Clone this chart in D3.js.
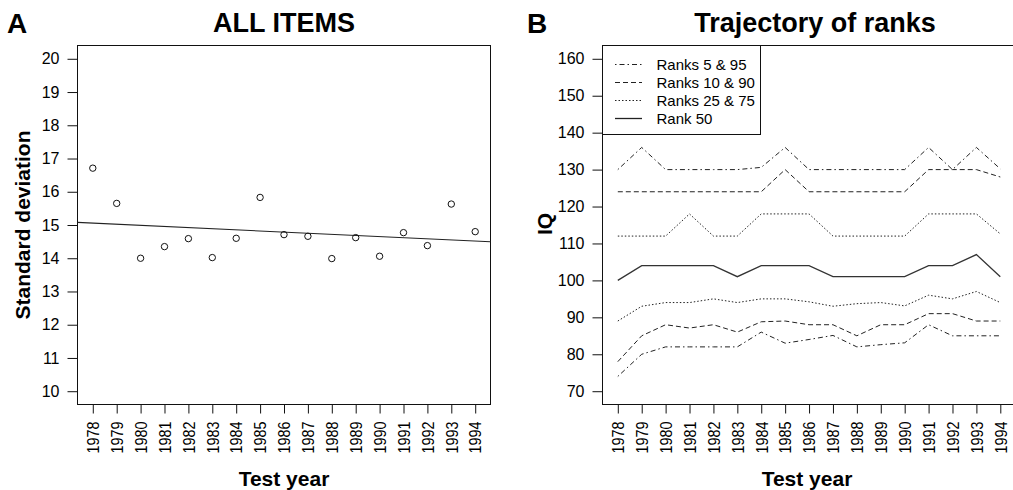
<!DOCTYPE html>
<html><head><meta charset="utf-8">
<script src="https://cdn.jsdelivr.net/npm/d3@7"></script>
<style>
body{margin:0;background:#fff}
svg{display:block;font-family:"Liberation Sans",Arial,Helvetica,sans-serif}
</style>
</head><body>
<svg id="c" width="1013" height="490"></svg>
<script>
// ---------- data ----------
const years = [1978,1979,1980,1981,1982,1983,1984,1985,1986,1987,1988,1989,1990,1991,1992,1993,1994];
const sdValues = [16.71,15.65,14.00,14.35,14.59,14.02,14.60,15.83,14.71,14.66,13.99,14.62,14.06,14.77,14.38,15.63,14.80];
const yTicksA = [10,11,12,13,14,15,16,17,18,19,20];
const yTicksB = [70,80,90,100,110,120,130,140,150,160];

const rank95 = [130,136,130,130,130,130,130.6,136,130,130,130,130,130,136,130,136,130.2];
const rank90 = [124,124,124,124,124,124,124,130,124,124,124,124,124,130,130,130,128];
const rank75 = [112,112,112,118,112,112,118,118,118,112,112,112,112,118,118,118,112.6];
const rank50 = [100,104,104,104,104,101,104,104,104,101,101,101,101,104,104,107,101];
const rank25 = [89,93,94,94,95,94,95,95,94.2,93,93.7,94,93.1,96,95,97,94];
const rank10 = [78,85,88,87.1,88,86,88.8,89,88,88,85,88,88,91,91,89,89];
const rank5  = [74,80,82,82,82,82,86,83,84,85.1,82,82.6,83.1,88,85,85,85];

const legendLabels = ["Ranks 5 & 95","Ranks 10 & 90","Ranks 25 & 75","Rank 50"];

// ---------- setup ----------
const svg = d3.select("#c");
const INK = "#111";
const dashStyles = ["1.5,3,5,3","5,3","1.5,2",null];
const lineSeries = [
  {v: rank95, s: 0}, {v: rank90, s: 1}, {v: rank75, s: 2}, {v: rank50, s: 3},
  {v: rank25, s: 2}, {v: rank10, s: 1}, {v: rank5, s: 0}
];

function padDomain(ext){ const p = (ext[1]-ext[0])*0.04; return [ext[0]-p, ext[1]+p]; }

function drawAxes(g, x, y, yTicks, left){
  const ya = g.append("g").attr("transform", `translate(${left},0)`)
    .call(d3.axisLeft(y).tickValues(yTicks).tickSize(10).tickPadding(8).tickFormat(d3.format("d")));
  ya.select(".domain").remove();
  ya.selectAll("line").attr("stroke", INK);
  ya.selectAll("text").attr("font-size", 16).attr("fill", "#000");
  const xa = g.append("g").attr("transform", `translate(0,404)`)
    .call(d3.axisBottom(x).tickValues(years).tickSize(9.5).tickFormat(d3.format("d")));
  xa.select(".domain").remove();
  xa.selectAll("line").attr("stroke", INK);
  const sc = 0.9;
  xa.selectAll("text")
    .attr("font-size", 16).attr("fill", "#000")
    .attr("text-anchor", "end")
    .attr("x", -17.5/sc).attr("y", 0).attr("dy", "0.36em")
    .attr("transform", `rotate(-90) scale(${sc},1)`);
}

// ---------- Panel A ----------
const xA = d3.scaleLinear().domain(padDomain(d3.extent(years))).range([77.5, 490.5]);
const yA = d3.scaleLinear().domain(padDomain([10,20])).range([404.5, 45.5]);
const gA = svg.append("g");
drawAxes(gA, xA, yA, yTicksA, 77.5);
gA.append("rect").attr("x", 77.5).attr("y", 45.5).attr("width", 413).attr("height", 359)
  .attr("fill", "none").attr("stroke", INK).attr("stroke-width", 1);

// least-squares regression line
const mx = d3.mean(years), my = d3.mean(sdValues);
const slope = d3.sum(years, (d,i) => (d-mx)*(sdValues[i]-my)) / d3.sum(years, d => (d-mx)*(d-mx));
const xd = xA.domain();
gA.append("line")
  .attr("x1", xA(xd[0])).attr("x2", xA(xd[1]))
  .attr("y1", yA(my + slope*(xd[0]-mx))).attr("y2", yA(my + slope*(xd[1]-mx)))
  .attr("stroke", "#222").attr("stroke-width", 1.1);

gA.selectAll("circle.pt").data(years).join("circle")
  .attr("class","pt")
  .attr("cx", d => xA(d)).attr("cy", (d,i) => yA(sdValues[i]))
  .attr("r", 3.2).attr("fill", "none").attr("stroke", INK).attr("stroke-width", 1);

gA.append("text").attr("x", 284).attr("y", 32).attr("text-anchor","middle")
  .attr("font-size", 27).attr("font-weight","bold").text("ALL ITEMS");
gA.append("text").attr("x", 7).attr("y", 33)
  .attr("font-size", 28).attr("font-weight","bold").text("A");
gA.append("text").attr("transform", "translate(30,225) rotate(-90)").attr("text-anchor","middle")
  .attr("font-size", 21).attr("font-weight","bold").text("Standard deviation");
gA.append("text").attr("x", 284).attr("y", 486).attr("text-anchor","middle")
  .attr("font-size", 21).attr("font-weight","bold").text("Test year");

// ---------- Panel B ----------
const xB = d3.scaleLinear().domain(padDomain(d3.extent(years))).range([602.5, 1015.6]);
const yB = d3.scaleLinear().domain(padDomain([70,160])).range([404.5, 45.5]);
const gB = svg.append("g");
drawAxes(gB, xB, yB, yTicksB, 602.5);
gB.append("rect").attr("x", 602.5).attr("y", 45.5).attr("width", 413).attr("height", 359)
  .attr("fill", "none").attr("stroke", INK).attr("stroke-width", 1);

const line = d3.line().x((d,i) => xB(years[i])).y(d => yB(d));
gB.selectAll("path.rk").data(lineSeries).join("path")
  .attr("class","rk")
  .attr("d", d => line(d.v))
  .attr("fill","none").attr("stroke", d => d.s === 3 ? "#333" : "#222")
  .attr("stroke-width", d => d.s === 3 ? 1.3 : 1)
  .attr("stroke-dasharray", d => dashStyles[d.s]);

// legend
const lg = gB.append("g");
lg.append("rect").attr("x", 602.5).attr("y", 45.5).attr("width", 158).attr("height", 89)
  .attr("fill","#fff").attr("stroke", INK).attr("stroke-width", 1);
legendLabels.forEach((lab, i) => {
  const cy = 64.5 + i*18;
  lg.append("line").attr("x1", 615).attr("x2", 642).attr("y1", cy).attr("y2", cy)
    .attr("stroke", "#222").attr("stroke-width", i === 3 ? 1.3 : 1)
    .attr("stroke-dasharray", dashStyles[i]);
  lg.append("text").attr("x", 656.5).attr("y", cy).attr("dy","0.36em")
    .attr("font-size", 15).text(lab);
});

gB.append("text").attr("x", 815).attr("y", 32).attr("text-anchor","middle")
  .attr("font-size", 27).attr("font-weight","bold").text("Trajectory of ranks");
gB.append("text").attr("x", 527).attr("y", 33)
  .attr("font-size", 28).attr("font-weight","bold").text("B");
gB.append("text").attr("transform", "translate(552,224) rotate(-90)").attr("text-anchor","middle")
  .attr("font-size", 21).attr("font-weight","bold").text("IQ");
gB.append("text").attr("x", 807).attr("y", 486).attr("text-anchor","middle")
  .attr("font-size", 21).attr("font-weight","bold").text("Test year");
</script>
</body></html>
